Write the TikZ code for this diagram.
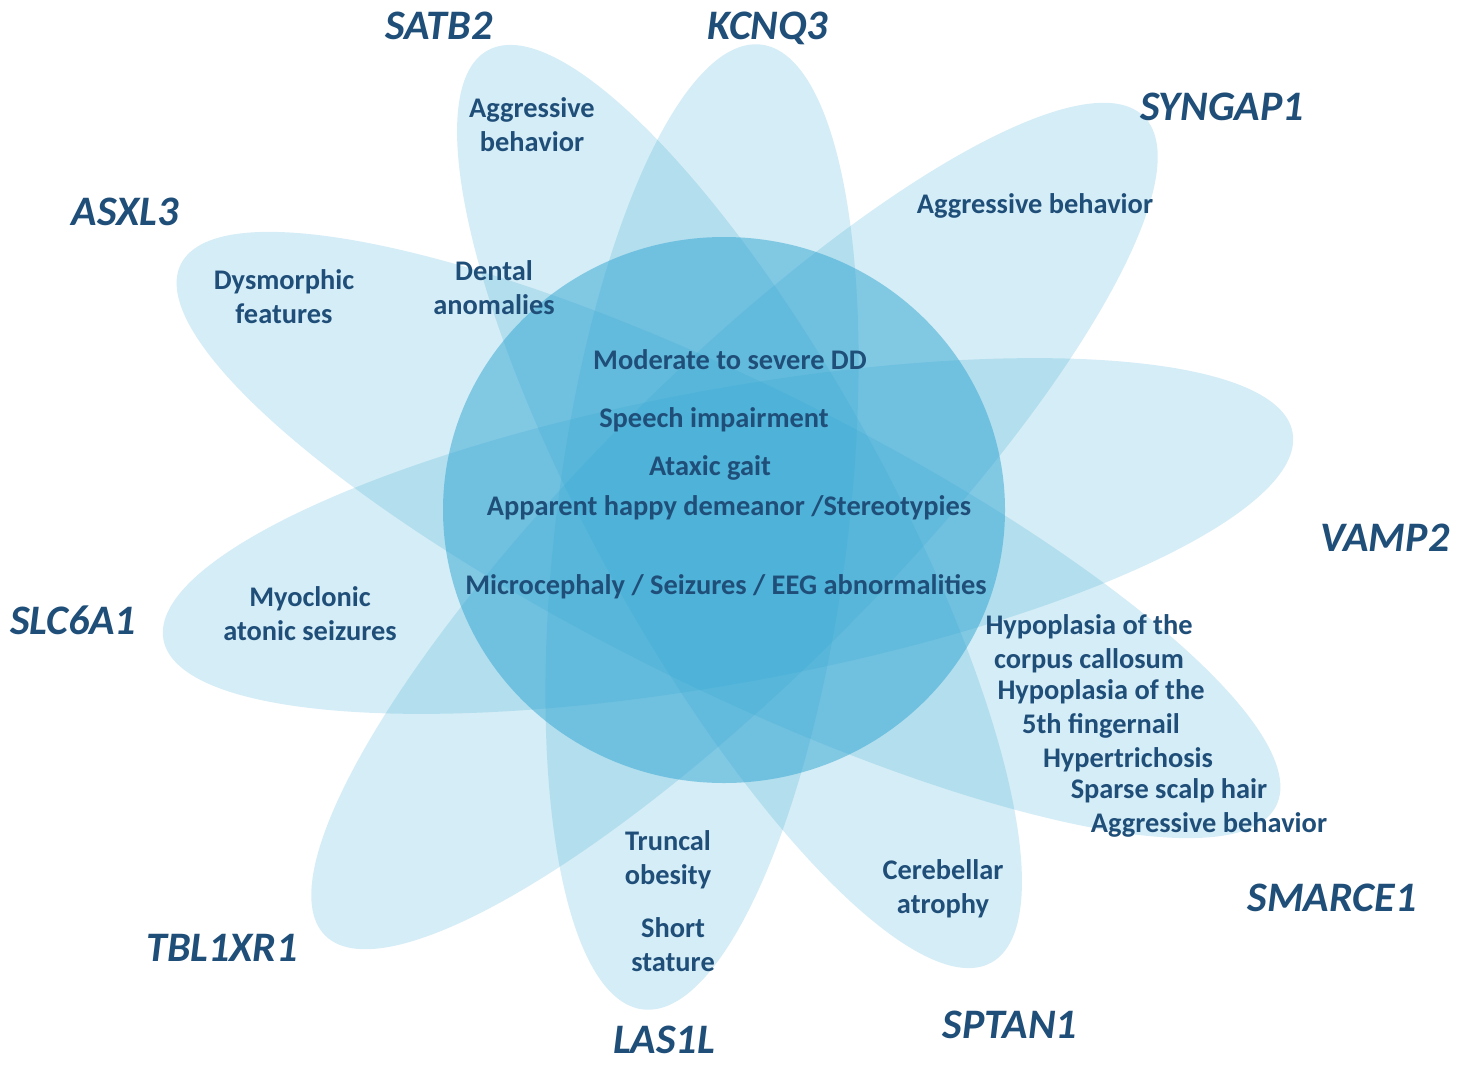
\documentclass[tikz,border=0pt]{standalone}
\usepackage{fontspec}
\setmainfont{Carlito}
\definecolor{txt}{RGB}{31,78,121}
\definecolor{petalc}{RGB}{46,165,210}
\begin{document}
\begin{tikzpicture}[x=0.5pt,y=-0.5pt,
  petal/.style={fill=petalc, fill opacity=0.2},
  core/.style={fill=petalc, fill opacity=0.5},
  lbl/.style={text=txt, font=\fontsize{14.2}{17}\selectfont\bfseries, align=center, inner sep=0pt},
  gene/.style={text=txt, font=\fontsize{21}{24}\selectfont\bfseries\itshape, inner sep=0pt}]
\fill[white] (0,0) rectangle (1466,1065);
\useasboundingbox (0,0) rectangle (1466,1065);
% petals
\fill[petal, rotate around={10.4:(728,536)}] (728,536) ellipse [x radius=574, y radius=147];
\fill[petal, rotate around={-26.3:(728.5,535)}] (728.5,535) ellipse [x radius=611, y radius=152];
\fill[petal, rotate around={-61.1:(739.5,506.5)}] (739.5,506.5) ellipse [x radius=521, y radius=146];
\fill[petal, rotate around={-97:(702,527)}] (702,527) ellipse [x radius=486, y radius=146];
\fill[petal, rotate around={45:(734.5,526)}] (734.5,526) ellipse [x radius=579, y radius=151];
% core
\fill[core] (724,510) ellipse [x radius=281, y radius=273];
% gene labels
\node[gene] (satb2) at (439,26) {SATB2};
\node[gene] (kcnq3) at (768,28) {KCNQ3};
\node[gene] (syngap1) at (1222,107) {SYNGAP1};
\node[gene] (asxl3) at (125,212) {ASXL3};
\node[gene] (vamp2) at (1385,538) {VAMP2};
\node[gene] (slc6a1) at (73,620) {SLC6A1};
\node[gene] (smarce1) at (1332,898) {SMARCE1};
\node[gene] (tbl1xr1) at (222,948) {TBL1XR1};
\node[gene] (las1l) at (664,1040) {LAS1L};
\node[gene] (sptan1) at (1010,1025) {SPTAN1};
% features
\node[lbl] (t1) at (532,125) {Aggressive\\behavior};
\node[lbl] (t2) at (1035,206) {Aggressive behavior};
\node[lbl] (t3) at (284,297) {Dysmorphic\\features};
\node[lbl] (t4) at (494,288) {Dental\\anomalies};
\node[lbl] (c1) at (730,360) {Moderate to severe DD};
\node[lbl] (c2) at (714,420) {Speech impairment};
\node[lbl] (c3) at (710,468) {Ataxic gait};
\node[lbl] (c4) at (729,508) {Apparent happy demeanor /Stereotypies};
\node[lbl] (c5) at (726,587) {Microcephaly / Seizures / EEG abnormalities};
\node[lbl] (t5) at (310,614) {Myoclonic\\atonic seizures};
\node[lbl] (s1) at (1089,644) {Hypoplasia of the\\corpus callosum};
\node[lbl] (s2) at (1101,709) {Hypoplasia of the\\5th fingernail};
\node[lbl] (s3) at (1128,760) {Hypertrichosis};
\node[lbl] (s4) at (1169,791) {Sparse scalp hair};
\node[lbl] (s5) at (1209,825) {Aggressive behavior};
\node[lbl] (t6) at (668,860) {Truncal\\obesity};
\node[lbl] (t7) at (673,945) {Short\\stature};
\node[lbl] (t8) at (943,889) {Cerebellar\\atrophy};
\end{tikzpicture}
\end{document}
